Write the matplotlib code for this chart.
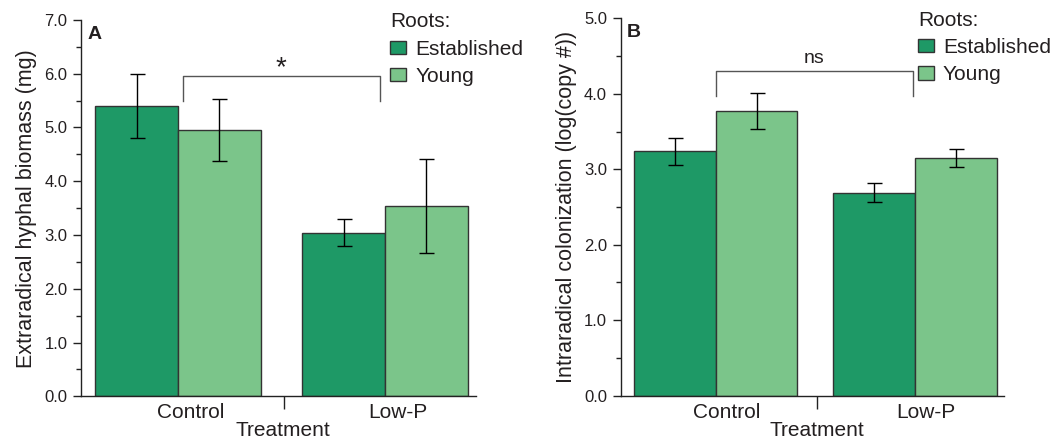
import numpy as np
import matplotlib
matplotlib.use("Agg")
import matplotlib.pyplot as plt
from matplotlib.ticker import MultipleLocator, FixedLocator

# ===============================================================================
# data

treatments = ["Control", "Low-P"]
roots = ["Established", "Young"]

biomass_est = [5.40, 3.04]
biomass_est_err = [0.59, 0.25]
biomass_young = [4.95, 3.54]
biomass_young_err = [0.58, 0.87]

colon_est = [3.24, 2.69]
colon_est_err = [0.18, 0.13]
colon_young = [3.77, 3.15]
colon_young_err = [0.24, 0.115]

# ===============================================================================

plt.rcParams['font.family'] = ['Liberation Sans', 'DejaVu Sans']
txtc = '#231f20'
c_est = '#1e9966'
c_young = '#7bc58a'

fig = plt.figure(figsize=(10.61, 4.42), dpi=100)
axA = fig.add_axes([0.0763, 0.1034, 0.3723, 0.8514])
axB = fig.add_axes([0.5850, 0.1048, 0.3613, 0.8538])

def drawPanel(ax, est, est_err, young, young_err, w, xlim, ymax, ylabel,
              letter, sig, br_y, br_leg, br_x0, br_x1, lab_off, leg_x):
    x = np.arange(len(treatments))
    ax.bar(x - w/2, est, w, color=c_est, edgecolor='#333333', lw=1.0, label=roots[0], zorder=2)
    ax.bar(x + w/2, young, w, color=c_young, edgecolor='#333333', lw=1.0, label=roots[1], zorder=2)
    ax.errorbar(x - w/2, est, yerr=est_err, fmt='none', ecolor='black', elinewidth=1.0,
                capsize=5.4, capthick=1.0, zorder=3)
    ax.errorbar(x + w/2, young, yerr=young_err, fmt='none', ecolor='black', elinewidth=1.0,
                capsize=5.4, capthick=1.0, zorder=3)

    ax.set_xlim(*xlim)
    ax.set_ylim(0, ymax)
    for s in ['top', 'right']:
        ax.spines[s].set_visible(False)
    for s in ['left', 'bottom']:
        ax.spines[s].set_linewidth(1.0)
        ax.spines[s].set_color('#222222')

    ax.yaxis.set_major_locator(MultipleLocator(1.0))
    ax.yaxis.set_minor_locator(MultipleLocator(0.5))
    ax.set_yticklabels(['%.1f' % v for v in ax.get_yticks()])
    ax.tick_params(axis='y', which='major', direction='out', length=5.8, width=1.0,
                   pad=4.0, labelsize=12, labelcolor=txtc, color='#222222')
    ax.tick_params(axis='y', which='minor', direction='out', length=3.6, width=1.0,
                   color='#222222')

    ax.set_xticks(x + lab_off)
    ax.set_xticklabels(treatments)
    ax.xaxis.set_minor_locator(FixedLocator([0.5 + lab_off / 6]))
    ax.tick_params(axis='x', which='major', length=0, pad=5, labelsize=15, labelcolor=txtc)
    ax.tick_params(axis='x', which='minor', direction='out', length=9, width=1.0, color='#222222')

    ax.set_xlabel('Treatment', fontsize=15, color=txtc)
    ax.xaxis.set_label_coords(0.511, -0.066)
    ax.set_ylabel(ylabel, fontsize=15.5, color=txtc, labelpad=5)

    ax.text(0.016, 0.985, letter, transform=ax.transAxes, fontsize=14, fontweight='bold',
            color=txtc, ha='left', va='top')

    # significance bracket
    ax.plot([br_x0, br_x0, br_x1, br_x1], [br_leg, br_y, br_y, br_leg],
            color='#555555', lw=1.0, zorder=1)
    if sig == '*':
        ax.text((br_x0 + br_x1) / 2, br_y - ymax * 0.012, sig, ha='center', va='bottom',
                fontsize=20, color=txtc)
    else:
        ax.text((br_x0 + br_x1) / 2, br_y + ymax * 0.012, sig, ha='center', va='bottom',
                fontsize=14, color=txtc)

    leg = ax.legend(title='Roots:', loc='upper left', bbox_to_anchor=(leg_x, 1.034),
                    frameon=False, fontsize=15, title_fontsize=15, alignment='left',
                    handlelength=0.75, handleheight=0.6, handletextpad=0.45,
                    labelspacing=0.4, borderpad=0.25, borderaxespad=0.0)
    for t in leg.get_texts():
        t.set_color(txtc)
    leg.get_title().set_color(txtc)

# ===============================================================================

drawPanel(axA, biomass_est, biomass_est_err, biomass_young, biomass_young_err,
          0.40, (-0.469, 1.44), 7.0, 'Extraradical hyphal biomass (mg)',
          'A', '*', 5.95, 5.5, 0.023, 0.976, 0.063, 0.77)
drawPanel(axB, colon_est, colon_est_err, colon_young, colon_young_err,
          0.41, (-0.477, 1.447), 5.0, 'Intraradical colonization (log(copy #))',
          'B', 'ns', 4.30, 3.97, 0.0, 0.99, 0.055, 0.762)

fig.savefig('out.png', dpi=100)
plt.close()
